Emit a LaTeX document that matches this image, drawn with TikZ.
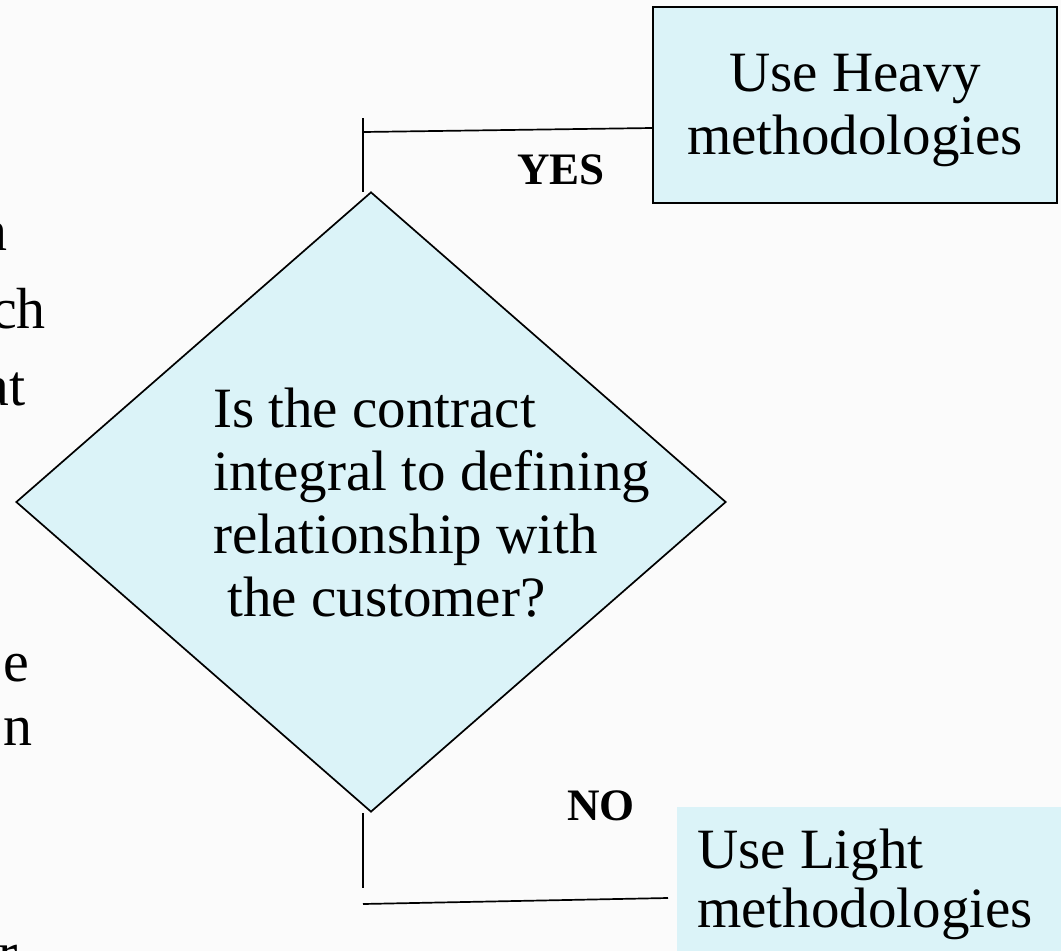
\documentclass[tikz,border=0pt]{standalone}
\usepackage{fontspec}
\setmainfont{Liberation Serif}
\usetikzlibrary{shapes.geometric}

\definecolor{boxfill}{RGB}{219,243,248}
\definecolor{paper}{RGB}{251,251,251}

\tikzset{
  body/.style={font=\fontsize{57}{63}\selectfont},
  answer/.style={font=\fontsize{45}{50}\selectfont\bfseries, inner sep=0pt},
  wire/.style={line width=1.7pt, black},
  decision/.style={diamond, draw=black, line width=1.7pt, fill=boxfill,
                   minimum width=710pt, minimum height=620pt, inner sep=0pt},
  outcome/.style={rectangle, fill=boxfill, inner sep=0pt},
  fragment/.style={font=\fontsize{58}{63}\selectfont, anchor=base east, inner sep=0pt},
}

\begin{document}
\begin{tikzpicture}[x=1pt, y=-1pt]
  % page area
  \useasboundingbox (0,0) rectangle (1061,951);
  \clip (0,0) rectangle (1061,951);
  \fill[paper] (0,0) rectangle (1061,951);

  % ends of a text column running off the left edge
  \node[fragment] (f1) at (8,250) {n};
  \node[fragment] (f2) at (46,328) {ch};
  \node[fragment] (f3) at (26,405) {at};
  \node[fragment] (f4) at (29,681) {e};
  \node[fragment] (f5) at (33,745) {n};
  \node[fragment] (f6) at (18,972) {r};

  % decision
  \node[decision] (q) at (371,502) {};
  \node[body, align=left, anchor=north west, inner sep=0pt] (qtext) at (213,388)
    {Is the contract\\integral to defining\\relationship with\\\ the customer?};

  % outcomes
  \node[outcome, draw=black, line width=1.7pt, minimum width=404pt, minimum height=196pt]
    (heavy) at (855,105) {};
  \node[body, align=center, inner sep=0pt] (heavytext) at (855,110) {Use Heavy\\methodologies};
  \node[outcome, anchor=north west, minimum width=400pt, minimum height=160pt] (light) at (677,807) {};
  \node[body, font=\fontsize{57}{59}\selectfont, align=left, anchor=north west, inner sep=0pt]
    (lighttext) at (697,829) {Use Light\\methodologies};

  % YES branch
  \coordinate (ytop) at (363,118);
  \coordinate (ybot) at (363,192);
  \coordinate (yjoin) at (363,132);
  \draw[wire] (ytop) -- (ybot);
  \draw[wire] (yjoin) -- ([yshift=-23pt]heavy.west);
  \node[answer] (yes) at (561,170) {YES};

  % NO branch
  \coordinate (ntop) at (363,813);
  \coordinate (nbot) at (363,888);
  \coordinate (njoin) at (363,904);
  \coordinate (nend) at (668,898);
  \draw[wire] (ntop) -- (nbot);
  \draw[wire] (njoin) -- (nend);
  \node[answer] (no) at (601,806) {NO};
\end{tikzpicture}
\end{document}
